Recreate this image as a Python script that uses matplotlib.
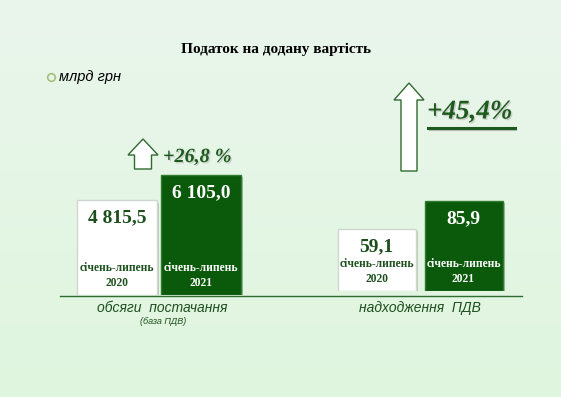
import matplotlib
matplotlib.use("Agg")
import matplotlib.pyplot as plt
import numpy as np
import matplotlib.patheffects as pe
from matplotlib.patches import FancyArrow

# ---- data ----
title = "Податок на додану вартість"
unit = "млрд грн"
periods = ["січень-липень\n2020", "січень-липень\n2021"]
supply_values = [4815.5, 6105.0]          # обсяги постачання (база ПДВ)
revenue_values = [59.1, 85.9]             # надходження ПДВ
supply_labels = ["4 815,5", "6 105,0"]
revenue_labels = ["59,1", "85,9"]
group_names = ["обсяги  постачання", "надходження  ПДВ"]
group_sub = "(база ПДВ)"
growth_labels = ["+26,8 %", "+45,4%"]

W, H = 561, 397
DPI = 100
fig = plt.figure(figsize=(W / DPI, H / DPI), dpi=DPI)

# background gradient
bg = fig.add_axes([0, 0, 1, 1])
grad = np.linspace(0, 1, 256)[:, None]
top = np.array([234, 245, 236]) / 255
bot = np.array([223, 246, 222]) / 255
img = top[None, None, :] * (1 - grad[:, :, None]) + bot[None, None, :] * grad[:, :, None]
bg.imshow(img, aspect="auto", extent=[0, W, H, 0])
bg.set_xlim(0, W)
bg.set_ylim(H, 0)
bg.axis("off")

def fx(px):
    return px / W

def fy(py):
    return 1 - py / H

DARK = "#0b5a0b"
TXT = "#1c4f1c"
serif = "Liberation Serif"
sans = "Liberation Sans"

# title & unit
bg.text(276, 49, title, ha="center", va="center", fontsize=11, fontweight="bold",
        family=serif, color="black")
bg.plot([51], [77], marker="o", ms=5.5, mfc="none", mec="#a6c07a", mew=1.2)
bg.text(59, 77, unit, ha="left", va="center", fontsize=10.5, style="italic",
        family=sans, color="black")

# baseline
bg.plot([60, 522], [296, 296], color="#2e6b2e", lw=1.0)

def draw_group(ax, values, labels, centers_px, width_px, axes_h_px, px_per_unit, span):
    spacing = centers_px[1] - centers_px[0]
    x = np.arange(len(values))
    ax.set_xlim(-(centers_px[0] - span[0]) / spacing, (span[1] - centers_px[0]) / spacing)
    ax.set_ylim(0, axes_h_px / px_per_unit)
    ax.axis("off")
    bars = ax.bar(x, values, width=width_px / spacing,
                  color=["white", DARK], edgecolor=["#d0d6d0", "#2f7a2f"], linewidth=1.0,
                  zorder=3)
    for b in bars:
        b.set_path_effects([pe.SimplePatchShadow(offset=(1.5, -1.5), alpha=0.25), pe.Normal()])
    for i, (v, lab) in enumerate(zip(values, labels)):
        col = TXT if i == 0 else "white"
        ax.annotate(lab, (x[i], v), xytext=(0, -12.5), textcoords="offset points",
                    ha="center", va="center", fontsize=14, fontweight="bold",
                    family=serif, color=col, zorder=5)
        ax.annotate(periods[i], (x[i], 0), xytext=(0, 14), textcoords="offset points",
                    ha="center", va="center", fontsize=8.3, fontweight="bold",
                    family=serif, color=col, linespacing=1.3, zorder=5)

# left group axes
lbase = 295
lax = fig.add_axes([fx(60), fy(lbase), fx(200), 160 / H])
draw_group(lax, supply_values, supply_labels, (117, 201), 80, 160, 0.01964, (60, 260))

# right group axes
rbase = 291
rax = fig.add_axes([fx(320), fy(rbase), fx(200), 160 / H])
draw_group(rax, revenue_values, revenue_labels, (376.5, 463.5), 78, 160, 1.044, (320, 520))

# group captions
bg.text(162, 308, group_names[0], ha="center", va="center", fontsize=10, style="italic",
        family=sans, color=TXT)
bg.text(163, 322, group_sub, ha="center", va="center", fontsize=6.5, style="italic",
        family=sans, color=TXT)
bg.text(420, 308, group_names[1], ha="center", va="center", fontsize=10, style="italic",
        family=sans, color=TXT)

# arrows
def up_arrow(xc, ybot, ytop, shaft_w, head_w, head_len):
    arr = FancyArrow(xc, ybot, 0, -(ybot - ytop), width=shaft_w, head_width=head_w,
                     head_length=head_len, length_includes_head=True,
                     facecolor="white", edgecolor="#2e6b2e", lw=1.0, zorder=4)
    bg.add_patch(arr)

up_arrow(143, 169, 139, 17, 30, 16)
up_arrow(409, 171, 83, 16, 30, 17)

shadow = [pe.withSimplePatchShadow(offset=(1, -1), shadow_rgbFace="#b8b8b8", alpha=0.6)]
t1 = bg.text(163, 157, growth_labels[0], ha="left", va="center", fontsize=14.5,
             fontweight="bold", style="italic", family=serif, color="#1e5a1e")
t1.set_path_effects(shadow)
t2 = bg.text(427, 112, growth_labels[1], ha="left", va="center", fontsize=19.5,
             fontweight="bold", style="italic", family=serif, color="#1e5a1e")
t2.set_path_effects(shadow)
bg.plot([428, 515], [127.5, 127.5], color="#1e5a1e", lw=2.2)
bg.plot([429, 516], [129.5, 129.5], color="#999999", lw=0.8, alpha=0.6)

fig.savefig("out.png", dpi=DPI)
